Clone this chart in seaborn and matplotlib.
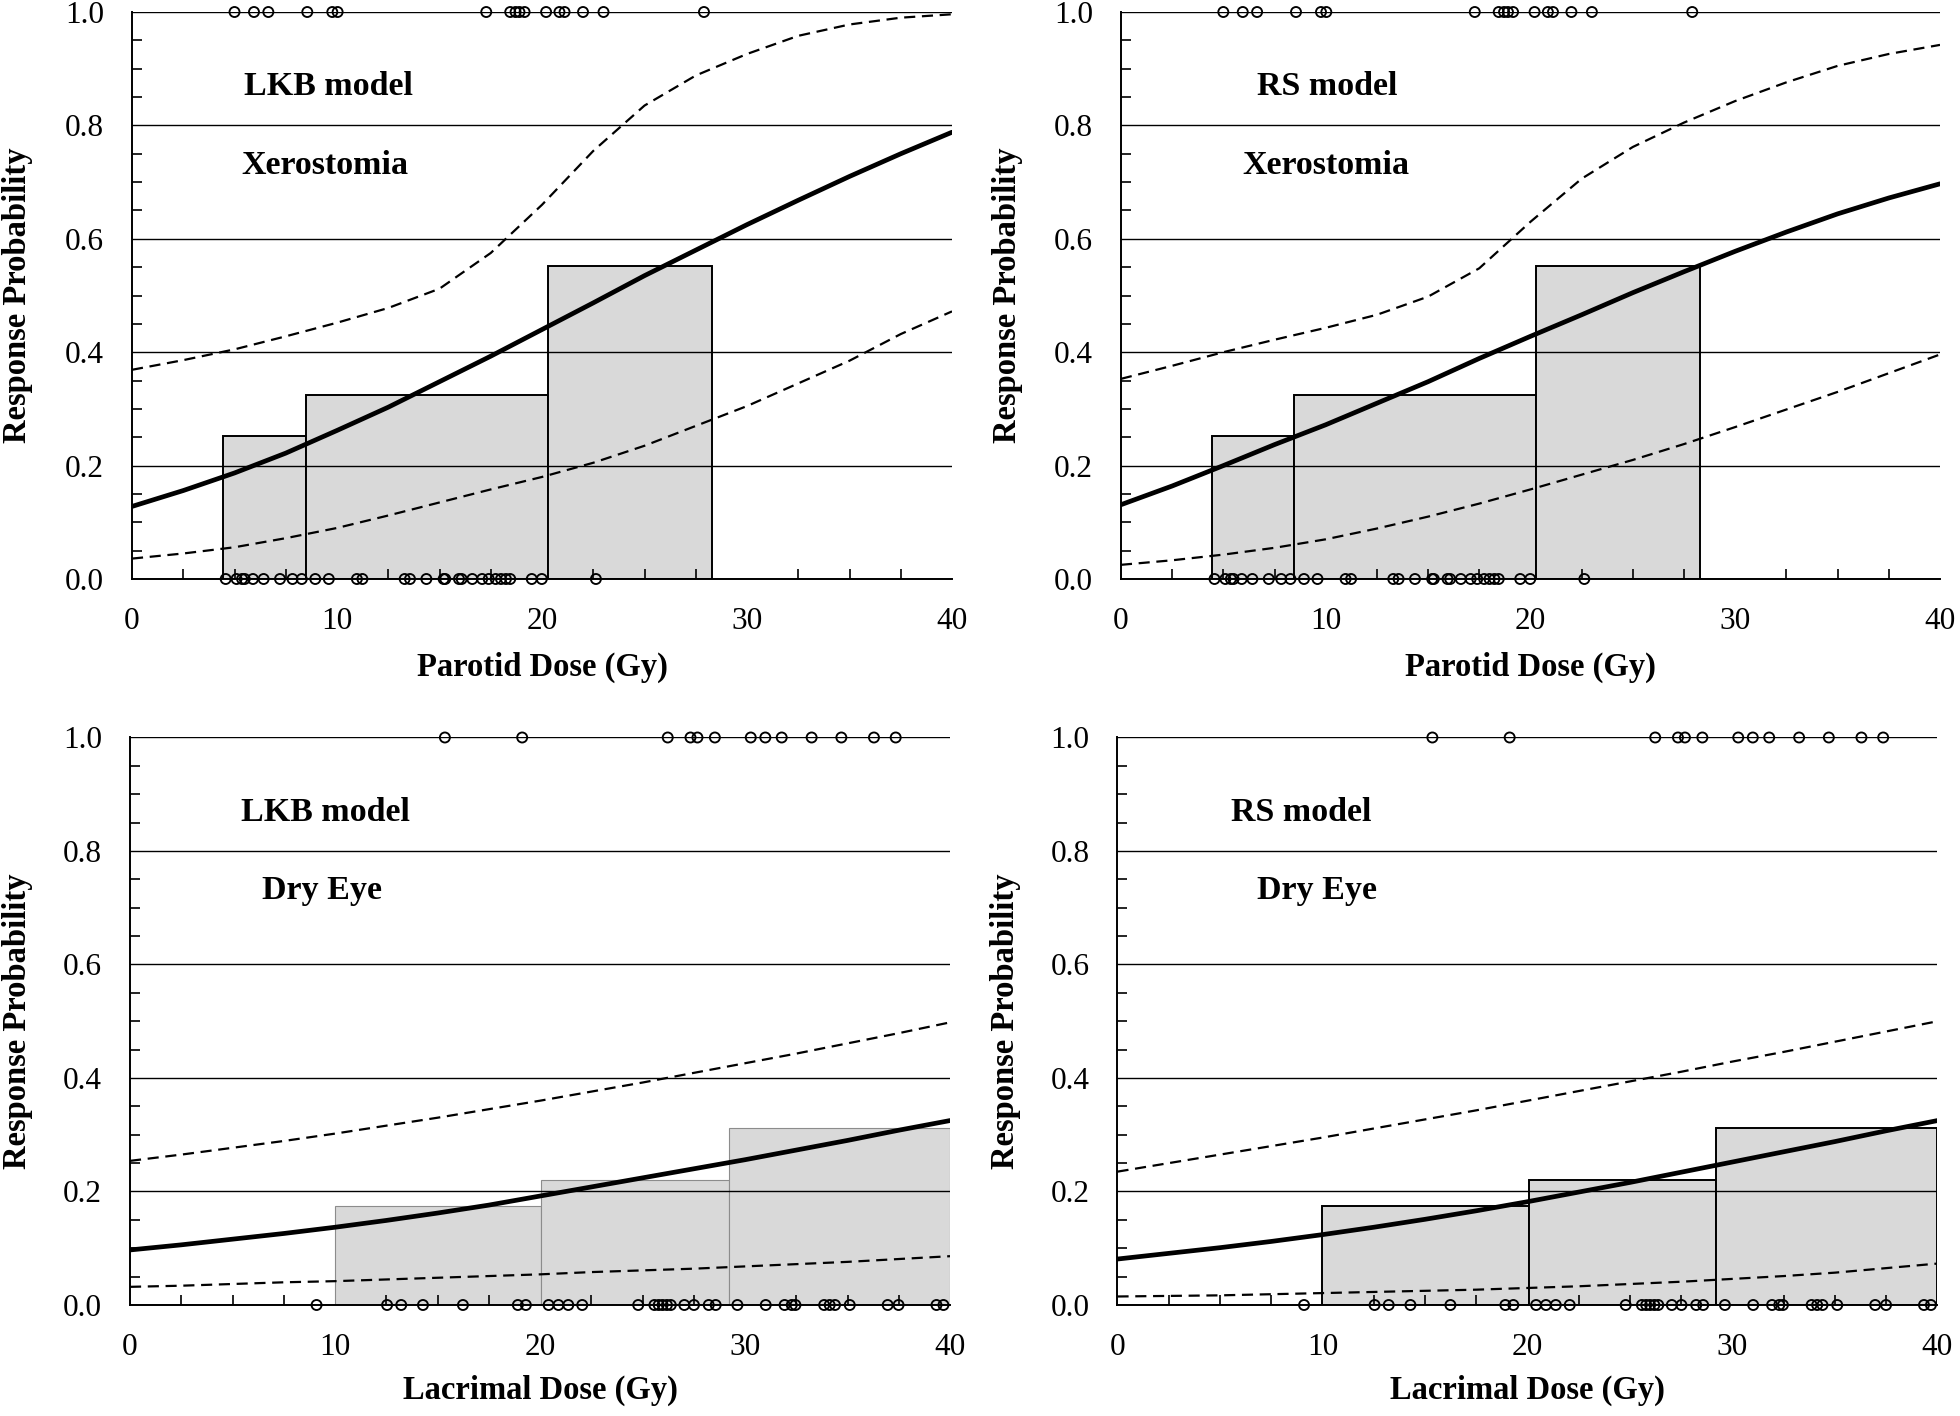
import numpy as np
import pandas as pd
import matplotlib
matplotlib.use("Agg")
import matplotlib.pyplot as plt
from matplotlib.ticker import MultipleLocator, FormatStrFormatter
import seaborn as sns

# ---------------- data ----------------
dose_grid = [0, 2.5, 5, 7.5, 10, 12.5, 15, 17.5, 20, 22.5, 25, 27.5, 30, 32.5, 35, 37.5, 40]

# Parotid / xerostomia
parotid_events = [5.0, 5.95, 6.65, 8.55, 9.77, 10.03, 17.28, 18.45, 18.71, 18.9, 19.15,
                  20.2, 20.85, 21.1, 22.0, 23.0, 27.9]
parotid_nonevents = [4.57, 5.10, 5.37, 5.50, 5.90, 6.42, 7.22, 7.83, 8.28, 8.94, 9.60, 10.97,
                     11.24, 13.30, 13.56, 14.36, 15.20, 15.28, 15.95, 16.08, 16.60, 17.08,
                     17.40, 17.74, 18.00, 18.24, 18.45, 19.50, 19.99, 22.63]
parotid_bin_edges = [4.43, 8.47, 20.27, 28.27]
parotid_bin_rates = [0.2515, 0.324, 0.5526]

lkb_xero_fit = [0.128, 0.156, 0.187, 0.222, 0.262, 0.303, 0.348, 0.393, 0.44, 0.487, 0.535,
                0.58, 0.625, 0.668, 0.71, 0.75, 0.788]
lkb_xero_upper = [0.369, 0.386, 0.405, 0.428, 0.452, 0.478, 0.512, 0.575, 0.66, 0.755, 0.835,
                  0.888, 0.926, 0.958, 0.978, 0.99, 0.996]
lkb_xero_lower = [0.036, 0.045, 0.056, 0.072, 0.09, 0.112, 0.135, 0.158, 0.18, 0.205, 0.235,
                  0.27, 0.305, 0.345, 0.385, 0.432, 0.472]

rs_xero_fit = [0.131, 0.164, 0.2, 0.237, 0.272, 0.31, 0.348, 0.389, 0.428, 0.466, 0.505, 0.542,
               0.578, 0.612, 0.644, 0.672, 0.697]
rs_xero_upper = [0.353, 0.376, 0.4, 0.422, 0.443, 0.466, 0.498, 0.548, 0.63, 0.706, 0.762,
                 0.805, 0.843, 0.876, 0.905, 0.926, 0.942]
rs_xero_lower = [0.025, 0.033, 0.043, 0.055, 0.07, 0.089, 0.11, 0.133, 0.158, 0.184, 0.21,
                 0.238, 0.268, 0.299, 0.33, 0.363, 0.396]

# Lacrimal / dry eye
lacrimal_events = [15.36, 19.13, 26.23, 27.34, 27.68, 28.53, 30.28, 30.99, 31.79, 33.25,
                   34.70, 36.29, 37.35]
lacrimal_nonevents = [9.10, 12.54, 13.23, 14.29, 16.24, 18.92, 19.31, 20.42, 20.90, 21.38,
                      22.06, 24.79, 25.58, 25.79, 25.98, 26.19, 26.38, 27.04, 27.51, 28.23,
                      28.57, 29.63, 31.01, 31.93, 32.28, 32.46, 33.86, 34.13, 34.39, 35.11,
                      36.96, 37.49, 39.34, 39.68]
lacrimal_bin_edges = [10.0, 20.05, 29.2, 40.0]
lacrimal_bin_rates = [0.174, 0.22, 0.312]

lkb_eye_fit = [0.097, 0.106, 0.116, 0.126, 0.137, 0.149, 0.162, 0.176, 0.192, 0.208, 0.224,
               0.24, 0.256, 0.273, 0.29, 0.308, 0.325]
lkb_eye_upper = [0.254, 0.265, 0.277, 0.289, 0.302, 0.316, 0.33, 0.345, 0.36, 0.376, 0.392,
                 0.409, 0.426, 0.443, 0.461, 0.479, 0.498]
lkb_eye_lower = [0.032, 0.034, 0.037, 0.04, 0.042, 0.045, 0.048, 0.051, 0.054, 0.058, 0.061,
                 0.064, 0.068, 0.072, 0.076, 0.081, 0.086]

rs_eye_fit = [0.081, 0.091, 0.101, 0.112, 0.124, 0.137, 0.151, 0.166, 0.182, 0.199, 0.216,
              0.234, 0.252, 0.27, 0.288, 0.307, 0.325]
rs_eye_upper = [0.235, 0.25, 0.265, 0.28, 0.295, 0.311, 0.327, 0.343, 0.36, 0.377, 0.394,
                0.411, 0.429, 0.446, 0.464, 0.482, 0.50]
rs_eye_lower = [0.015, 0.016, 0.017, 0.019, 0.021, 0.023, 0.025, 0.027, 0.03, 0.033, 0.037,
                0.041, 0.046, 0.051, 0.057, 0.065, 0.073]

x_ticks = [0, 10, 20, 30, 40]
y_ticks = [0.0, 0.2, 0.4, 0.6, 0.8, 1.0]

# ---------------- style ----------------
sns.set_theme(style="white")
plt.rcParams["font.family"] = ["Liberation Serif", "DejaVu Serif"]
plt.rcParams["axes.linewidth"] = 1.4

fig = plt.figure(figsize=(19.6, 14.16), dpi=100)

panels = [
    dict(rect=[0.06735, 0.5911, 0.41837, 0.40042], events=parotid_events,
         nonevents=parotid_nonevents, edges=parotid_bin_edges, rates=parotid_bin_rates,
         fit=lkb_xero_fit, up=lkb_xero_upper, lo=lkb_xero_lower,
         t1="LKB model", t2="Xerostomia", t1x=5.45, t2x=5.34, xlabel="Parotid Dose (Gy)",
         bar_edge="black", bar_lw=1.4, ylab_x=-0.140, xlab_y=-0.155),
    dict(rect=[0.5719, 0.5911, 0.4179, 0.40042], events=parotid_events,
         nonevents=parotid_nonevents, edges=parotid_bin_edges, rates=parotid_bin_rates,
         fit=rs_xero_fit, up=rs_xero_upper, lo=rs_xero_lower,
         t1="RS model", t2="Xerostomia", t1x=6.66, t2x=5.93, xlabel="Parotid Dose (Gy)",
         bar_edge="black", bar_lw=1.4, ylab_x=-0.139, xlab_y=-0.155),
    dict(rect=[0.06633, 0.07839, 0.41837, 0.40078], events=lacrimal_events,
         nonevents=lacrimal_nonevents, edges=lacrimal_bin_edges, rates=lacrimal_bin_rates,
         fit=lkb_eye_fit, up=lkb_eye_upper, lo=lkb_eye_lower,
         t1="LKB model", t2="Dry Eye", t1x=5.43, t2x=6.46, xlabel="Lacrimal Dose (Gy)",
         bar_edge="#8c8c8c", bar_lw=0.8, ylab_x=-0.137, xlab_y=-0.150),
    dict(rect=[0.57015, 0.07839, 0.41837, 0.40078], events=lacrimal_events,
         nonevents=lacrimal_nonevents, edges=lacrimal_bin_edges, rates=lacrimal_bin_rates,
         fit=rs_eye_fit, up=rs_eye_upper, lo=rs_eye_lower,
         t1="RS model", t2="Dry Eye", t1x=5.55, t2x=6.8, xlabel="Lacrimal Dose (Gy)",
         bar_edge="black", bar_lw=1.4, ylab_x=-0.136, xlab_y=-0.150),
]

for p in panels:
    ax = fig.add_axes(p["rect"])
    ax.set_facecolor("white")

    # binned observed rates
    lefts = p["edges"][:-1]
    widths = np.diff(p["edges"])
    ax.bar(lefts, p["rates"], width=widths, align="edge", facecolor="#d9d9d9",
           edgecolor=p["bar_edge"], linewidth=p["bar_lw"], zorder=1)

    # model curves
    sns.lineplot(x=dose_grid, y=p["up"], ax=ax, color="black", linewidth=1.6,
                 linestyle=(0, (5, 3)), zorder=3)
    sns.lineplot(x=dose_grid, y=p["lo"], ax=ax, color="black", linewidth=1.6,
                 linestyle=(0, (5, 3)), zorder=3)
    sns.lineplot(x=dose_grid, y=p["fit"], ax=ax, color="black", linewidth=3.4, zorder=4)

    # patient outcomes
    sns.scatterplot(x=p["events"], y=[1.0] * len(p["events"]), ax=ax, marker="o",
                    facecolor="none", edgecolor="black", s=52, linewidth=1.35,
                    clip_on=False, zorder=6)
    sns.scatterplot(x=p["nonevents"], y=[0.0] * len(p["nonevents"]), ax=ax, marker="o",
                    facecolor="none", edgecolor="black", s=52, linewidth=1.35,
                    clip_on=False, zorder=6)

    ax.set_xlim(0, 40)
    ax.set_ylim(0, 1.0)
    ax.set_xticks(x_ticks)
    ax.set_yticks(y_ticks)
    ax.yaxis.set_major_formatter(FormatStrFormatter("%.1f"))
    ax.xaxis.set_minor_locator(MultipleLocator(2.5))
    ax.yaxis.set_minor_locator(MultipleLocator(0.05))
    ax.tick_params(axis="both", which="both", direction="in", length=7, width=1.2,
                   color="black", labelsize=22.5, labelcolor="black")
    ax.tick_params(axis="x", which="major", pad=20)
    ax.tick_params(axis="y", which="major", pad=20)
    ax.tick_params(axis="x", which="minor", bottom=True)
    ax.tick_params(axis="y", which="minor", left=True)

    ax.yaxis.grid(True, which="major", color="black", linewidth=1.0)
    ax.xaxis.grid(False)
    ax.set_axisbelow(False)

    for s in ["top", "right"]:
        ax.spines[s].set_visible(False)
    for s in ["left", "bottom"]:
        ax.spines[s].set_color("black")
        ax.spines[s].set_linewidth(1.4)

    ax.set_xlabel(p["xlabel"], fontsize=23.5, fontweight="bold", color="black")
    ax.set_ylabel("Response Probability", fontsize=23.5, fontweight="bold", color="black")
    ax.xaxis.set_label_coords(0.5, p["xlab_y"])
    ax.yaxis.set_label_coords(p["ylab_x"], 0.5)
    ax.xaxis.label.set_va("center")
    ax.yaxis.label.set_va("center")

    ax.text(p["t1x"], 0.868, p["t1"], fontsize=24.5, fontweight="bold", ha="left",
            va="center", color="black")
    ax.text(p["t2x"], 0.730, p["t2"], fontsize=24.5, fontweight="bold", ha="left",
            va="center", color="black")

fig.savefig("out.png", dpi=100, facecolor="white")
